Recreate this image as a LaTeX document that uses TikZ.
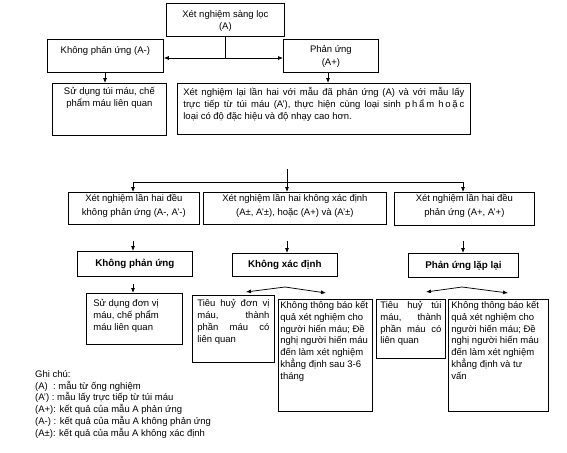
\documentclass[tikz,border=0pt]{standalone}
\usepackage{fontspec}
\setmainfont{Liberation Sans}
\usetikzlibrary{arrows.meta}
\newcommand\bx[5]{\parbox[c][#2][t]{#1}{#3\rule{0pt}{#4}#5}}
\newcommand\js[1]{\makebox[\linewidth][s]{#1}}
\begin{document}
\begin{tikzpicture}[x=1pt,y=-1pt,
  every node/.style={font=\fontsize{9.5}{11.7}\selectfont},
  box/.style={draw, line width=0.75pt, anchor=north west, inner ysep=0pt, inner xsep=#1},
  box/.default=3pt,
  bbox/.style={draw, line width=0.75pt, anchor=north west, inner sep=0pt, font=\fontsize{9.8}{11.7}\selectfont\bfseries},
  arr/.style={line width=0.75pt, -{Latex[length=5pt,width=4pt]}},
  ln/.style={line width=0.75pt}]
\useasboundingbox[fill=white] (0,0) rectangle (567,452);

% level 1
\node[box] (A) at (166,3) {\bx{112pt}{33pt}{\centering\baselineskip=11.5pt}{14.5pt}{Xét nghiệm sàng lọc\\(A)}};
\node[box] (Bn) at (47,39) {\bx{110pt}{33pt}{\centering}{14.5pt}{Không phản ứng (A-)}};
\node[box] (Bp) at (283,39) {\bx{89pt}{33pt}{\centering\baselineskip=12.5pt}{13.5pt}{Phản ứng\\(A+)}};
\node[box] (C1) at (52,83) {\bx{108pt}{52pt}{\centering\baselineskip=12pt}{11.5pt}{Sử dụng túi máu, chế\\phẩm máu liên quan}};
\node[box=6pt] (C2) at (177,83) {\bx{281pt}{51pt}{\raggedright\baselineskip=12pt}{12.5pt}{\js{Xét nghiệm lại lần hai với mẫu đã phản ứng (A) và với mẫu lấy}\\\js{trực tiếp từ túi máu (A’), thực hiện cùng loại sinh p\kern1.8pt h\kern1.8pt ẩ\kern1.8pt m h\kern1.8pt o\kern1.8pt ặ\kern1.8pt c}\\loại có độ đặc hiệu và độ nhạy cao hơn.}};

\coordinate (j1) at (A.south |- 0,58);
\draw[ln] (A.south) -- (j1);
\draw[arr] (j1) -- (Bn.east |- j1);
\draw[arr] (j1) -- (Bp.west |- j1);
\draw[arr] (Bn.south -| 105,0) -- (C1.north -| 105,0);
\draw[arr] (Bp.south -| 328,0) -- (C2.north -| 328,0);

% level 2
\node[box] (D1) at (68,192) {\bx{125pt}{32pt}{\centering\baselineskip=14.3pt}{8.8pt}{Xét nghiệm lần hai đều\\không phản ứng (A-, A’-)}};
\node[box] (D2) at (203,192) {\bx{177pt}{32pt}{\centering\baselineskip=14.3pt}{8.8pt}{Xét nghiệm lần hai không xác định\\(A±, A’±), hoặc (A+) và (A’±)}};
\node[box] (D3) at (394,192) {\bx{134pt}{33pt}{\centering\baselineskip=14.3pt}{8.8pt}{Xét nghiệm lần hai đều\\phản ứng (A+, A’+)}};

\coordinate (k0) at (287,169);
\coordinate (kl) at (133,182);
\coordinate (kr) at (463,182);
\draw[ln] (kl) -- (kr);
\draw[arr] (k0) -- (k0 |- D2.north);
\draw[arr] (kl) -- (kl |- D1.north);
\draw[arr] (kr) -- (kr |- D3.north);

% level 3
\node[bbox, minimum width=115pt, minimum height=25pt] (E1) at (77,251) {Không phản ứng};
\node[bbox, minimum width=105pt, minimum height=23pt] (E2) at (232,253) {Không xác định};
\node[bbox, minimum width=110pt, minimum height=24pt] (E3) at (408,253) {Phản ứng lặp lại};

\coordinate (m1) at (133,241);
\coordinate (m2) at (287,241);
\coordinate (m3) at (463,241);
\draw[arr] (m1) -- (m1 |- E1.north);
\draw[arr] (m2) -- (m2 |- E2.north);
\draw[arr] (m3) -- (m3 |- E3.north);

% level 4
\node[box=7pt] (F1) at (86,293) {\bx{82pt}{51pt}{\raggedright\baselineskip=12pt}{13.5pt}{Sử dụng đơn vị\\máu, chế phẩm\\máu liên quan}};
\node[box=5pt] (F2) at (192,295) {\bx{72pt}{67pt}{\raggedright\baselineskip=12pt}{11.5pt}{\js{Tiêu huỷ đơn vị}\\\js{máu, thành}\\\js{phần máu có}\\liên quan}};
\node[box=2pt] (F3) at (278,299) {\bx{90pt}{112pt}{\raggedright\baselineskip=11.7pt}{9.5pt}{Không thông báo kết\\quả xét nghiệm cho\\người hiến máu; Đề\\nghị người hiến máu\\đến làm xét nghiệm\\khẳng định sau 3-6\\tháng}};
\node[box=4pt] (F4) at (376,299) {\bx{61pt}{59pt}{\raggedright\baselineskip=11.7pt}{9.5pt}{\js{Tiêu huỷ túi}\\\js{máu, thành}\\\js{phần máu có}\\liên quan}};
\node[box=3pt] (F5) at (448,299) {\bx{94pt}{112pt}{\raggedright\baselineskip=11.7pt}{9.5pt}{Không thông báo kết\\quả xét nghiệm cho\\người hiến máu; Đề\\nghị người hiến máu\\đến làm xét nghiệm\\khẳng định và tư\\vấn}};

\coordinate (n1) at (133,284);
\draw[arr] (n1) -- (n1 |- F1.north);

\coordinate (p2) at (285,287);
\coordinate (p2l) at (246,292);
\coordinate (p2r) at (326,293);
\draw[arr] (p2) -- (p2l);
\draw[arr] (p2) -- (p2r);
\coordinate (p3) at (462,287);
\coordinate (p3l) at (426,292);
\coordinate (p3r) at (508,293);
\draw[arr] (p3) -- (p3l);
\draw[arr] (p3) -- (p3r);

% legend
\node[anchor=north west, inner sep=0pt] (legend) at (35,366) {\parbox[t]{260pt}{\baselineskip=11.8pt\rule{0pt}{11pt}Ghi chú:\\
(A)\ \ : mẫu từ ống nghiệm\\
(A’) : mẫu lấy trực tiếp từ túi máu\\
(A+): kết quả của mẫu A phản ứng\\
(A-) : kết quả của mẫu A không phản ứng\\
(A±): kết quả của mẫu A không xác định}};
\end{tikzpicture}
\end{document}
